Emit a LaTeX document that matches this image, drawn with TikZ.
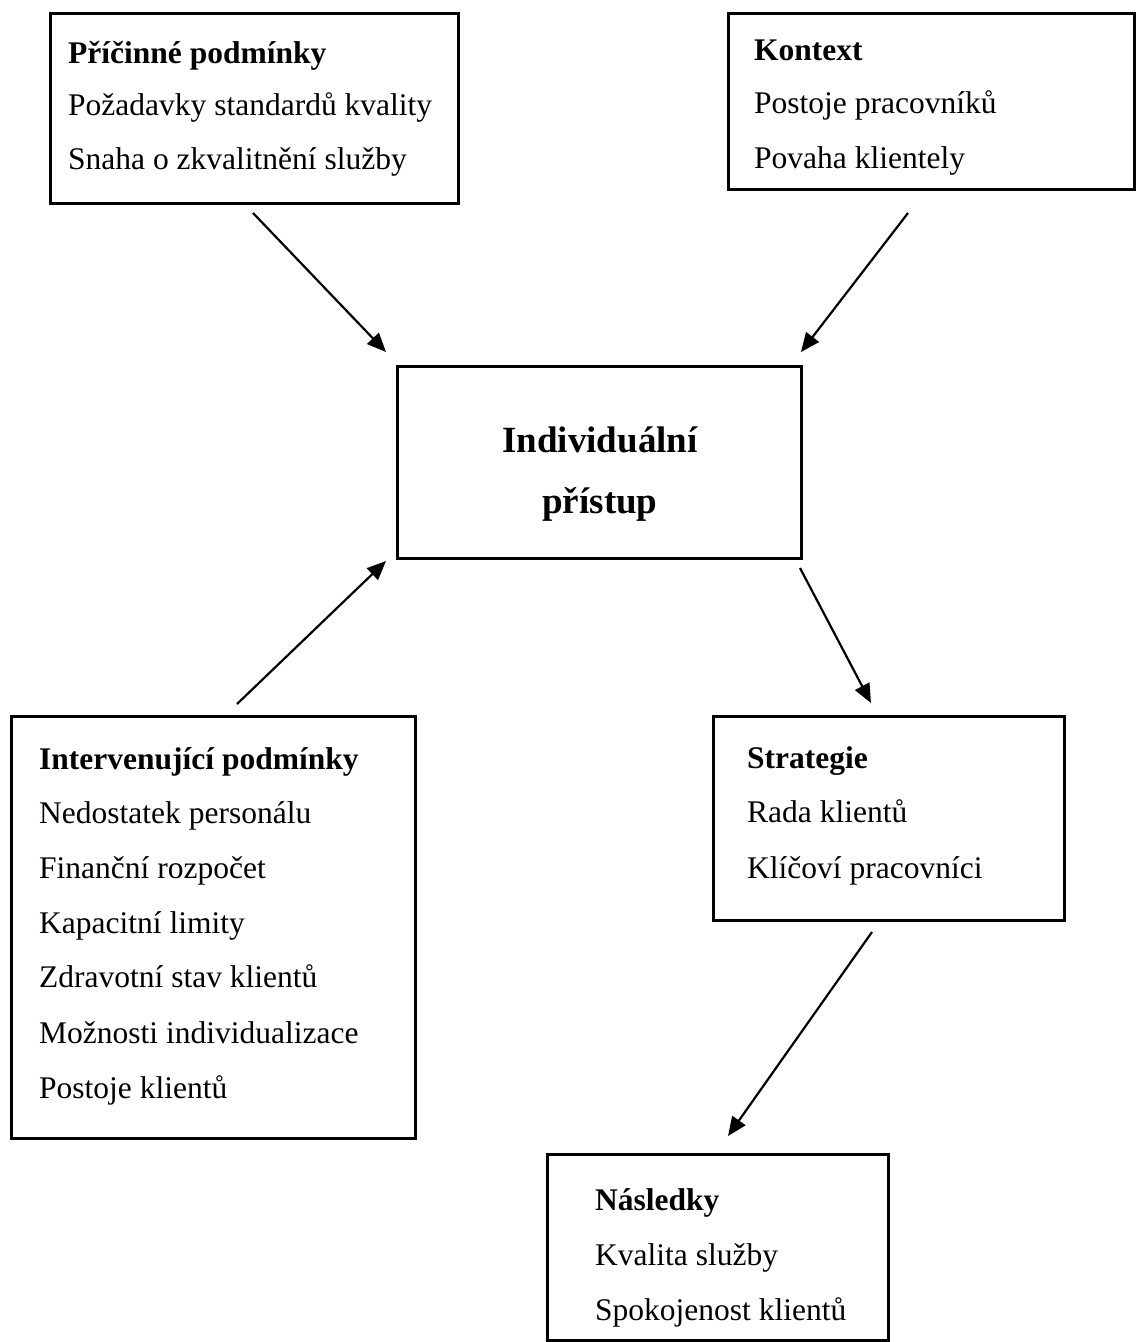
\documentclass[tikz,border=0pt]{standalone}
\usepackage{fontspec}
\setmainfont{Liberation Serif}
\usetikzlibrary{arrows.meta}
\tikzset{
  box/.style={draw=black, line width=3pt, fill=none, inner sep=0pt, anchor=north west},
  txt/.style={anchor=base west, inner sep=0pt, font=\fontsize{31.5}{38}\selectfont},
  ttl/.style={txt, font=\fontsize{31.5}{38}\selectfont\bfseries},
  ctr/.style={anchor=base, inner sep=0pt, font=\fontsize{37}{44}\selectfont\bfseries},
  arr/.style={line width=2.2pt, -{Triangle[length=19pt,width=16pt]}}
}
\begin{document}
\begin{tikzpicture}[x=1pt,y=-1pt]
\useasboundingbox (0,0) rectangle (1137,1342);
% boxes
\node[box, minimum width=408pt, minimum height=190pt] (b1) at (49,12) {};
\node[box, minimum width=406pt, minimum height=176pt] (b2) at (727,12) {};
\node[box, minimum width=404pt, minimum height=192pt] (b3) at (396,365) {};
\node[box, minimum width=404pt, minimum height=422pt] (b4) at (10,715) {};
\node[box, minimum width=351pt, minimum height=204pt] (b5) at (712,715) {};
\node[box, minimum width=341pt, minimum height=186pt] (b6) at (546,1153) {};
% texts box 1
\node[ttl] (t1a) at (68,63) {Příčinné podmínky};
\node[txt] (t1b) at (68,115) {Požadavky standardů kvality};
\node[txt] (t1c) at (68,169) {Snaha o zkvalitnění služby};
% box 2
\node[ttl] (t2a) at (754,60) {Kontext};
\node[txt] (t2b) at (754,113) {Postoje pracovníků};
\node[txt] (t2c) at (754,168) {Povaha klientely};
% center
\node[ctr] (t3a) at (600,452) {Individuální};
\node[ctr] (t3b) at (600,513) {přístup};
% box 4
\node[ttl] (t4a) at (39,769) {Intervenující podmínky};
\node[txt] (t4b) at (39,823) {Nedostatek personálu};
\node[txt] (t4c) at (39,878) {Finanční rozpočet};
\node[txt] (t4d) at (39,933) {Kapacitní limity};
\node[txt] (t4e) at (39,987) {Zdravotní stav klientů};
\node[txt] (t4f) at (39,1043) {Možnosti individualizace};
\node[txt] (t4g) at (39,1098) {Postoje klientů};
% box 5
\node[ttl] (t5a) at (747,768) {Strategie};
\node[txt] (t5b) at (747,822) {Rada klientů};
\node[txt] (t5c) at (747,878) {Klíčoví pracovníci};
% box 6
\node[ttl] (t6a) at (595,1210) {Následky};
\node[txt] (t6b) at (595,1265) {Kvalita služby};
\node[txt] (t6c) at (595,1320) {Spokojenost klientů};
% connector endpoints
\coordinate (a1s) at (253,213); \coordinate (a1e) at (386,352);
\coordinate (a2s) at (908,213); \coordinate (a2e) at (801,352);
\coordinate (a3s) at (237,704); \coordinate (a3e) at (386,561);
\coordinate (a4s) at (800,568); \coordinate (a4e) at (871,703);
\coordinate (a5s) at (872,932); \coordinate (a5e) at (728,1136);
\draw[arr] (a1s) -- (a1e);
\draw[arr] (a2s) -- (a2e);
\draw[arr] (a3s) -- (a3e);
\draw[arr] (a4s) -- (a4e);
\draw[arr] (a5s) -- (a5e);
\end{tikzpicture}
\end{document}
